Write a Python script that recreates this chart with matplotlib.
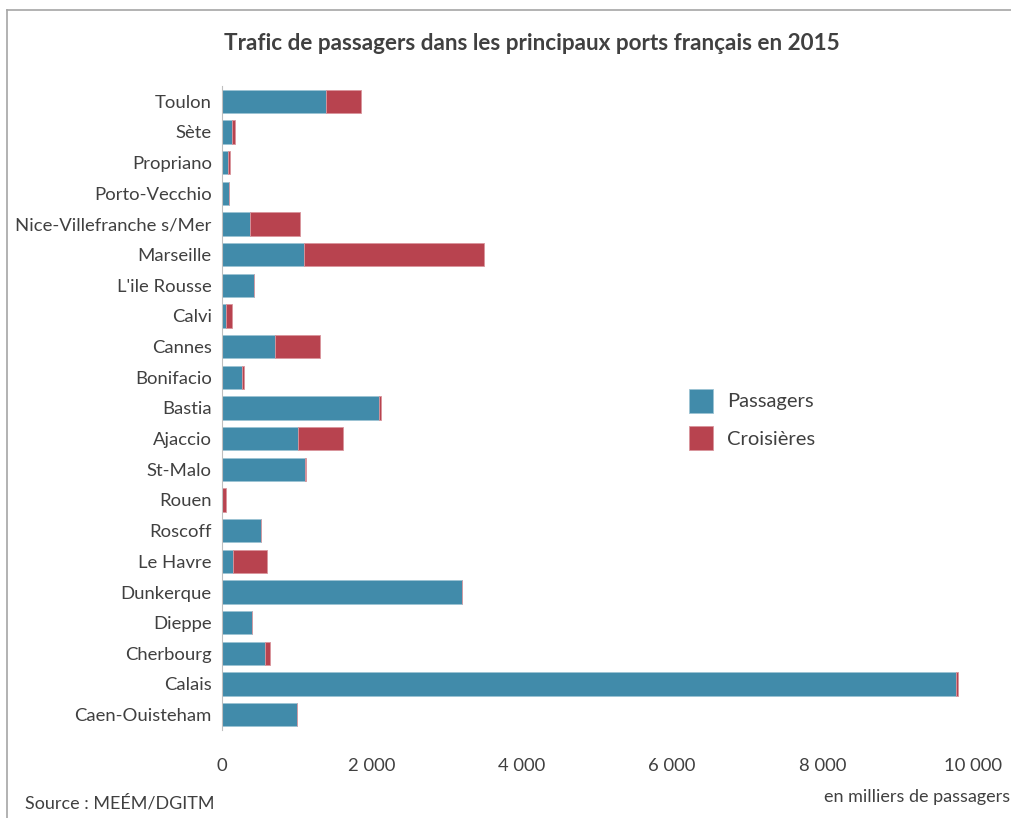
import matplotlib
import matplotlib.pyplot as plt
from matplotlib.lines import Line2D
from matplotlib.ticker import FuncFormatter

matplotlib.use('Agg')
plt.rcParams['font.family'] = ['Lato', 'DejaVu Sans']

# ports, listed from top to bottom as in the chart
ports = ["Toulon", "Sète", "Propriano", "Porto-Vecchio", "Nice-Villefranche s/Mer",
         "Marseille", "L'ile Rousse", "Calvi", "Cannes", "Bonifacio", "Bastia",
         "Ajaccio", "St-Malo", "Rouen", "Roscoff", "Le Havre", "Dunkerque",
         "Dieppe", "Cherbourg", "Calais", "Caen-Ouisteham"]
# en milliers de passagers
passagers = [1390, 136, 87, 100, 380, 1098, 433, 60, 712, 277, 2101,
             1019, 1108, 0, 522, 157, 3198, 410, 579, 9776, 1005]
croisieres = [463, 44, 26, 0, 665, 2400, 0, 80, 600, 18, 23,
              600, 13, 55, 0, 445, 0, 0, 63, 27, 0]

blue = '#418BAA'
red = '#B8434F'
txt = '#404040'

fig = plt.figure(figsize=(10.11, 8.18), dpi=100)
ax = fig.add_axes([221.5 / 1011, 1 - 730 / 818, 751 / 1011, 644 / 818])

y = list(range(len(ports)))[::-1]
ax.barh(y, passagers, height=0.77, color=blue, edgecolor='#9CC3D3', linewidth=0.6,
        label='Passagers')
ax.barh(y, croisieres, left=passagers, height=0.77, color=red, edgecolor='#D9959C',
        linewidth=0.6, label='Croisières')

ax.set_xlim(0, 10000)
ax.set_ylim(-0.5, len(ports) - 0.5)
ax.set_yticks(y)
ax.set_yticklabels(ports)
ax.set_xticks(range(0, 10001, 2000))
ax.xaxis.set_major_formatter(FuncFormatter(lambda v, p: f"{int(v):,}".replace(',', ' ')))
ax.tick_params(axis='both', length=0, colors=txt, labelsize=13.3)
ax.tick_params(axis='x', pad=20)
ax.tick_params(axis='y', pad=7)
for s in ['top', 'right', 'bottom']:
    ax.spines[s].set_visible(False)
ax.spines['left'].set_color('#BFBFBF')

ax.legend(loc='upper left', bbox_to_anchor=(0.598, 0.558), frameon=False, fontsize=14.5,
          labelcolor=txt, handlelength=1.2, handleheight=1.45, handletextpad=0.7,
          labelspacing=0.68)

fig.text(532 / 1011, 1 - 43 / 818, "Trafic de passagers dans les principaux ports français en 2015",
         ha='center', va='center', fontsize=16.2, fontweight='bold', color=txt)
fig.text(25 / 1011, 1 - 803 / 818, "Source : MEÉM/DGITM", ha='left', va='center',
         fontsize=13, color=txt)
fig.text(1010 / 1011, 1 - 797 / 818, "en milliers de passagers", ha='right', va='center',
         fontsize=13, color=txt)

# partial chart frame
fig.add_artist(Line2D([7 / 1011, 7 / 1011], [0, 1 - 10 / 818], color='#A6A6A6', lw=1.2))
fig.add_artist(Line2D([7 / 1011, 1], [1 - 10 / 818, 1 - 10 / 818], color='#A6A6A6', lw=1.2))

fig.savefig('out.png', dpi=100)
